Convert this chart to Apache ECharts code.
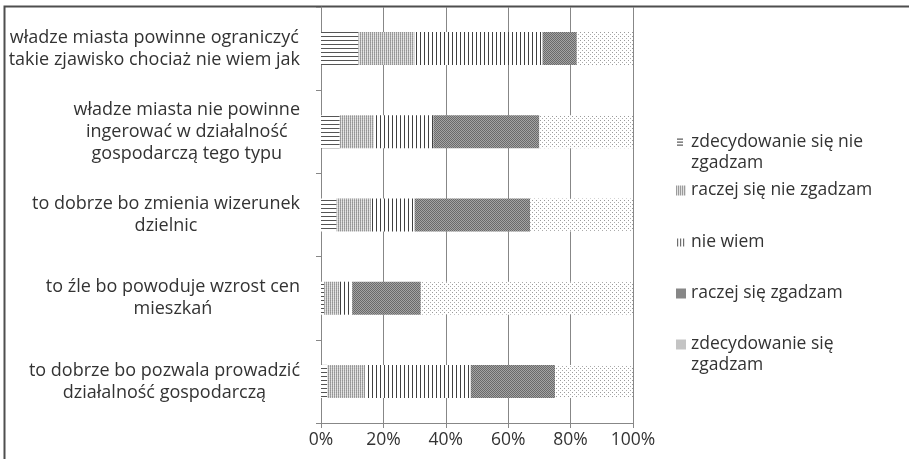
<!DOCTYPE html>
<html>
<head>
<meta charset="utf-8">
<script src="https://cdn.jsdelivr.net/npm/echarts@6/dist/echarts.min.js"></script>
<style>
  html, body { margin: 0; padding: 0; background: #ffffff; }
  #chart { width: 909px; height: 459px; }
</style>
</head>
<body>
<div id="chart"></div>
<script>
// Statements, listed bottom-to-top as the category axis draws them
const categories = [
  'to dobrze bo pozwala prowadzić\ndziałalność gospodarczą',
  'to źle bo powoduje wzrost cen\nmieszkań',
  'to dobrze bo zmienia wizerunek\ndzielnic',
  'władze miasta nie powinne\ningerować w działalność\ngospodarczą tego typu',
  'władze miasta powinne ograniczyć\ntakie zjawisko chociaż nie wiem jak'
];

// Answer options (series) and how their legend entries wrap
const seriesNames = [
  'zdecydowanie się nie zgadzam',
  'raczej się nie zgadzam',
  'nie wiem',
  'raczej się zgadzam',
  'zdecydowanie się zgadzam'
];
const legendLabels = [
  'zdecydowanie się nie\nzgadzam',
  'raczej się nie zgadzam',
  'nie wiem',
  'raczej się zgadzam',
  'zdecydowanie się\nzgadzam'
];

// Share of answers (%) per statement, same order as categories
const stronglyDisagree = [2, 1, 5, 6, 12];
const ratherDisagree   = [12, 5, 11, 11, 18];
const dontKnow         = [34, 4, 14, 19, 41];
const ratherAgree      = [27, 22, 37, 34, 11];
const stronglyAgree    = [25, 68, 33, 30, 18];

// Percentage axis ticks
const xTicks = [0, 20, 40, 60, 80, 100];

const FONT = '"Open Sans", "Liberation Sans", sans-serif';
const TEXT = '#333333';
const AXIS = '#878787';

// Small repeating fill textures, painted pixel by pixel
function texture(w, h, paint) {
  const c = document.createElement('canvas');
  c.width = w; c.height = h;
  const ctx = c.getContext('2d');
  ctx.fillStyle = '#ffffff';
  ctx.fillRect(0, 0, w, h);
  paint(ctx);
  return { image: c, repeat: 'repeat' };
}
const px = (ctx, color, x, y, w, h) => { ctx.fillStyle = color; ctx.fillRect(x, y, w || 1, h || 1); };

const fillHLines = texture(4, 4, ctx => px(ctx, '#555555', 0, 0, 4, 1));
const fillLightFine = texture(2, 2, ctx => {
  px(ctx, '#959595', 0, 0); px(ctx, '#dcdcdc', 1, 0);
  px(ctx, '#a2a2a2', 0, 1); px(ctx, '#e6e6e6', 1, 1);
});
const fillVLines = texture(4, 4, ctx => px(ctx, '#404040', 0, 0, 1, 4));
const fillDarkChecker = texture(2, 2, ctx => {
  px(ctx, '#6a6a6a', 0, 0); px(ctx, '#a4a4a4', 1, 0);
  px(ctx, '#a4a4a4', 0, 1); px(ctx, '#6a6a6a', 1, 1);
});
const fillSparseDots = texture(4, 4, ctx => {
  px(ctx, '#9a9a9a', 0, 0); px(ctx, '#ababab', 2, 2);
});

const fills = [fillHLines, fillLightFine, fillVLines, fillDarkChecker, fillSparseDots];
const values = [stronglyDisagree, ratherDisagree, dontKnow, ratherAgree, stronglyAgree];

// Legend markers; two-line entries keep the marker beside the first line
const legendIcons = [
  'path://M0,0M1,1h6v1.2h-6zM1,4h6v1.2h-6zM1,7h6v1.2h-6zM10,31',
  'rect',
  'path://M0,0M1,1h1.2v8h-1.2zM4,1h1.2v8h-1.2zM7,1h1.2v8h-1.2zM10,10',
  'rect',
  'path://M0,0h10v10h-10zM10,31'
];
const legendColors = ['#5e5e5e', fillLightFine, '#6e6e6e', fillDarkChecker, '#c4c4c4'];
const legendTops = [132, 180, 232, 283, 334];

const legends = seriesNames.map((name, i) => {
  const twoLine = legendLabels[i].indexOf('\n') >= 0;
  return {
    selectedMode: false,
    orient: 'vertical',
    left: 676,
    top: legendTops[i],
    padding: 0,
    itemWidth: 10,
    itemHeight: twoLine ? 31 : 10,
    data: [{ name: name, icon: legendIcons[i], itemStyle: { color: legendColors[i], borderWidth: 0 } }],
    formatter: () => legendLabels[i],
    textStyle: { fontFamily: FONT, fontSize: 17.5, color: TEXT, lineHeight: 21 }
  };
});

const chart = echarts.init(document.getElementById('chart'), null, { renderer: 'canvas' });

chart.setOption({
  backgroundColor: '#ffffff',
  animation: false,
  graphic: [{
    type: 'rect',
    silent: true,
    z: -10,
    shape: { x: 4.5, y: 6.5, width: 940, height: 500 },
    style: { fill: 'none', stroke: '#4e4e4e', lineWidth: 2 }
  }],
  legend: legends,
  grid: { left: 321, right: 276, top: 7, bottom: 36, containLabel: false, outerBoundsMode: 'none' },
  xAxis: {
    type: 'value',
    min: xTicks[0],
    max: xTicks[xTicks.length - 1],
    interval: xTicks[1] - xTicks[0],
    axisLine: { show: true, lineStyle: { color: AXIS, width: 1 } },
    axisTick: { show: true, length: 5, lineStyle: { color: AXIS } },
    splitLine: { show: true, lineStyle: { color: AXIS, width: 1 } },
    axisLabel: {
      formatter: '{value}%',
      margin: 8,
      fontFamily: FONT, fontSize: 17.5, color: TEXT
    }
  },
  yAxis: {
    type: 'category',
    data: categories,
    axisLine: { show: true, lineStyle: { color: AXIS, width: 1 } },
    axisTick: { show: true, length: 5, lineStyle: { color: AXIS } },
    splitLine: { show: false },
    axisLabel: {
      interval: 0,
      margin: 21,
      formatter: v => v.split('\n').map(line => '{c|' + line + '}').join('\n'),
      rich: {
        c: { align: 'center', fontFamily: FONT, fontSize: 18, color: TEXT, lineHeight: 22 }
      }
    }
  },
  series: seriesNames.map((name, i) => ({
    name: name,
    type: 'bar',
    stack: 'answers',
    barWidth: 33,
    data: values[i],
    itemStyle: { color: fills[i], borderWidth: 0 },
    emphasis: { disabled: true }
  }))
});
</script>
</body>
</html>
